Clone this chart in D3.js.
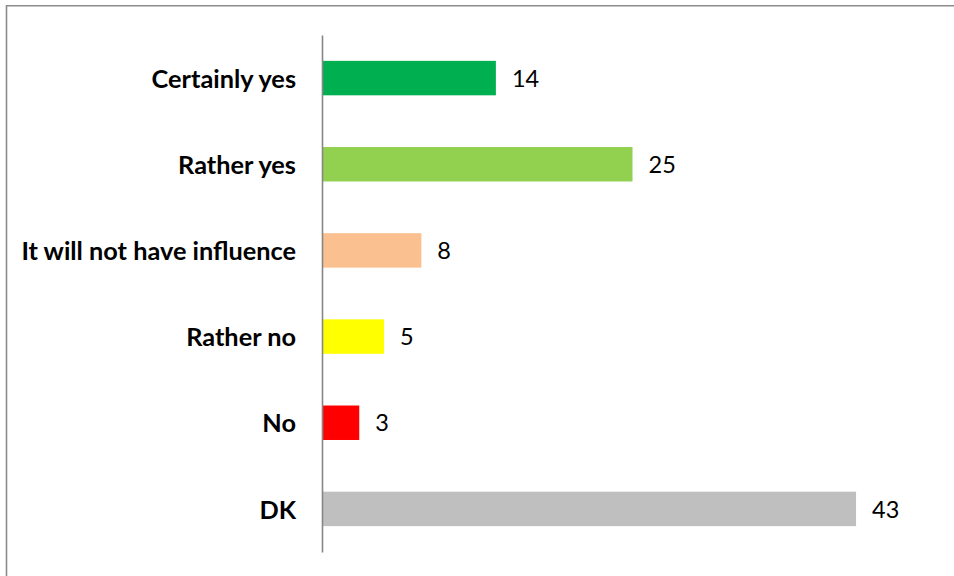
<!DOCTYPE html>
<html>
<head>
<meta charset="utf-8">
<script src="https://cdn.jsdelivr.net/npm/d3@7"></script>
<style>
  html, body { margin: 0; padding: 0; background: #fff; }
  svg { display: block; }
</style>
</head>
<body>
<svg id="chart" width="954" height="576"></svg>
<script>
// Survey answers and their shares (%)
const categories = ["Certainly yes", "Rather yes", "It will not have influence", "Rather no", "No", "DK"];
const values = [14, 25, 8, 5, 3, 43];
const barColors = ["#00B050", "#92D050", "#FAC090", "#FFFF00", "#FF0000", "#BFBFBF"];

const W = 954, H = 576;
const svg = d3.select("#chart");

// Outer frame (only top and left edges fall inside the view)
svg.append("path")
  .attr("d", `M6.5,${H + 2} V5.8 H${W + 2}`)
  .attr("fill", "none")
  .attr("stroke", "#8c8c8c")
  .attr("stroke-width", 1.6);

const axisX = 322;
const pxPerUnit = 12.42;
const x = d3.scaleLinear().domain([0, 45]).range([axisX, axisX + 45 * pxPerUnit]);
const y = d3.scaleBand().domain(categories).range([35, 552])
  .paddingInner(0.6).paddingOuter(0.3);

const font = "Lato, 'Open Sans', 'Liberation Sans', sans-serif";

// Bars
svg.append("g").selectAll("rect")
  .data(categories)
  .join("rect")
  .attr("x", x(0))
  .attr("y", d => y(d))
  .attr("width", (d, i) => x(values[i]) - x(0))
  .attr("height", y.bandwidth())
  .attr("fill", (d, i) => barColors[i]);

// Category axis
const axis = svg.append("g")
  .attr("transform", `translate(${axisX},0)`)
  .call(d3.axisLeft(y).tickSize(0).tickPadding(26));
axis.select(".domain").attr("stroke", "#868686").attr("stroke-width", 1.6);
axis.selectAll(".tick text")
  .attr("fill", "#000")
  .attr("dy", "0.38em")
  .style("font-family", font)
  .style("font-weight", "bold")
  .style("font-size", "25.3px");

// Value labels
svg.append("g").selectAll("text")
  .data(categories)
  .join("text")
  .attr("x", (d, i) => x(values[i]) + 16)
  .attr("y", d => y(d) + y.bandwidth() / 2)
  .attr("dy", "0.37em")
  .attr("fill", "#000")
  .style("font-family", font)
  .style("font-size", "23.5px")
  .text((d, i) => values[i]);
</script>
</body>
</html>
